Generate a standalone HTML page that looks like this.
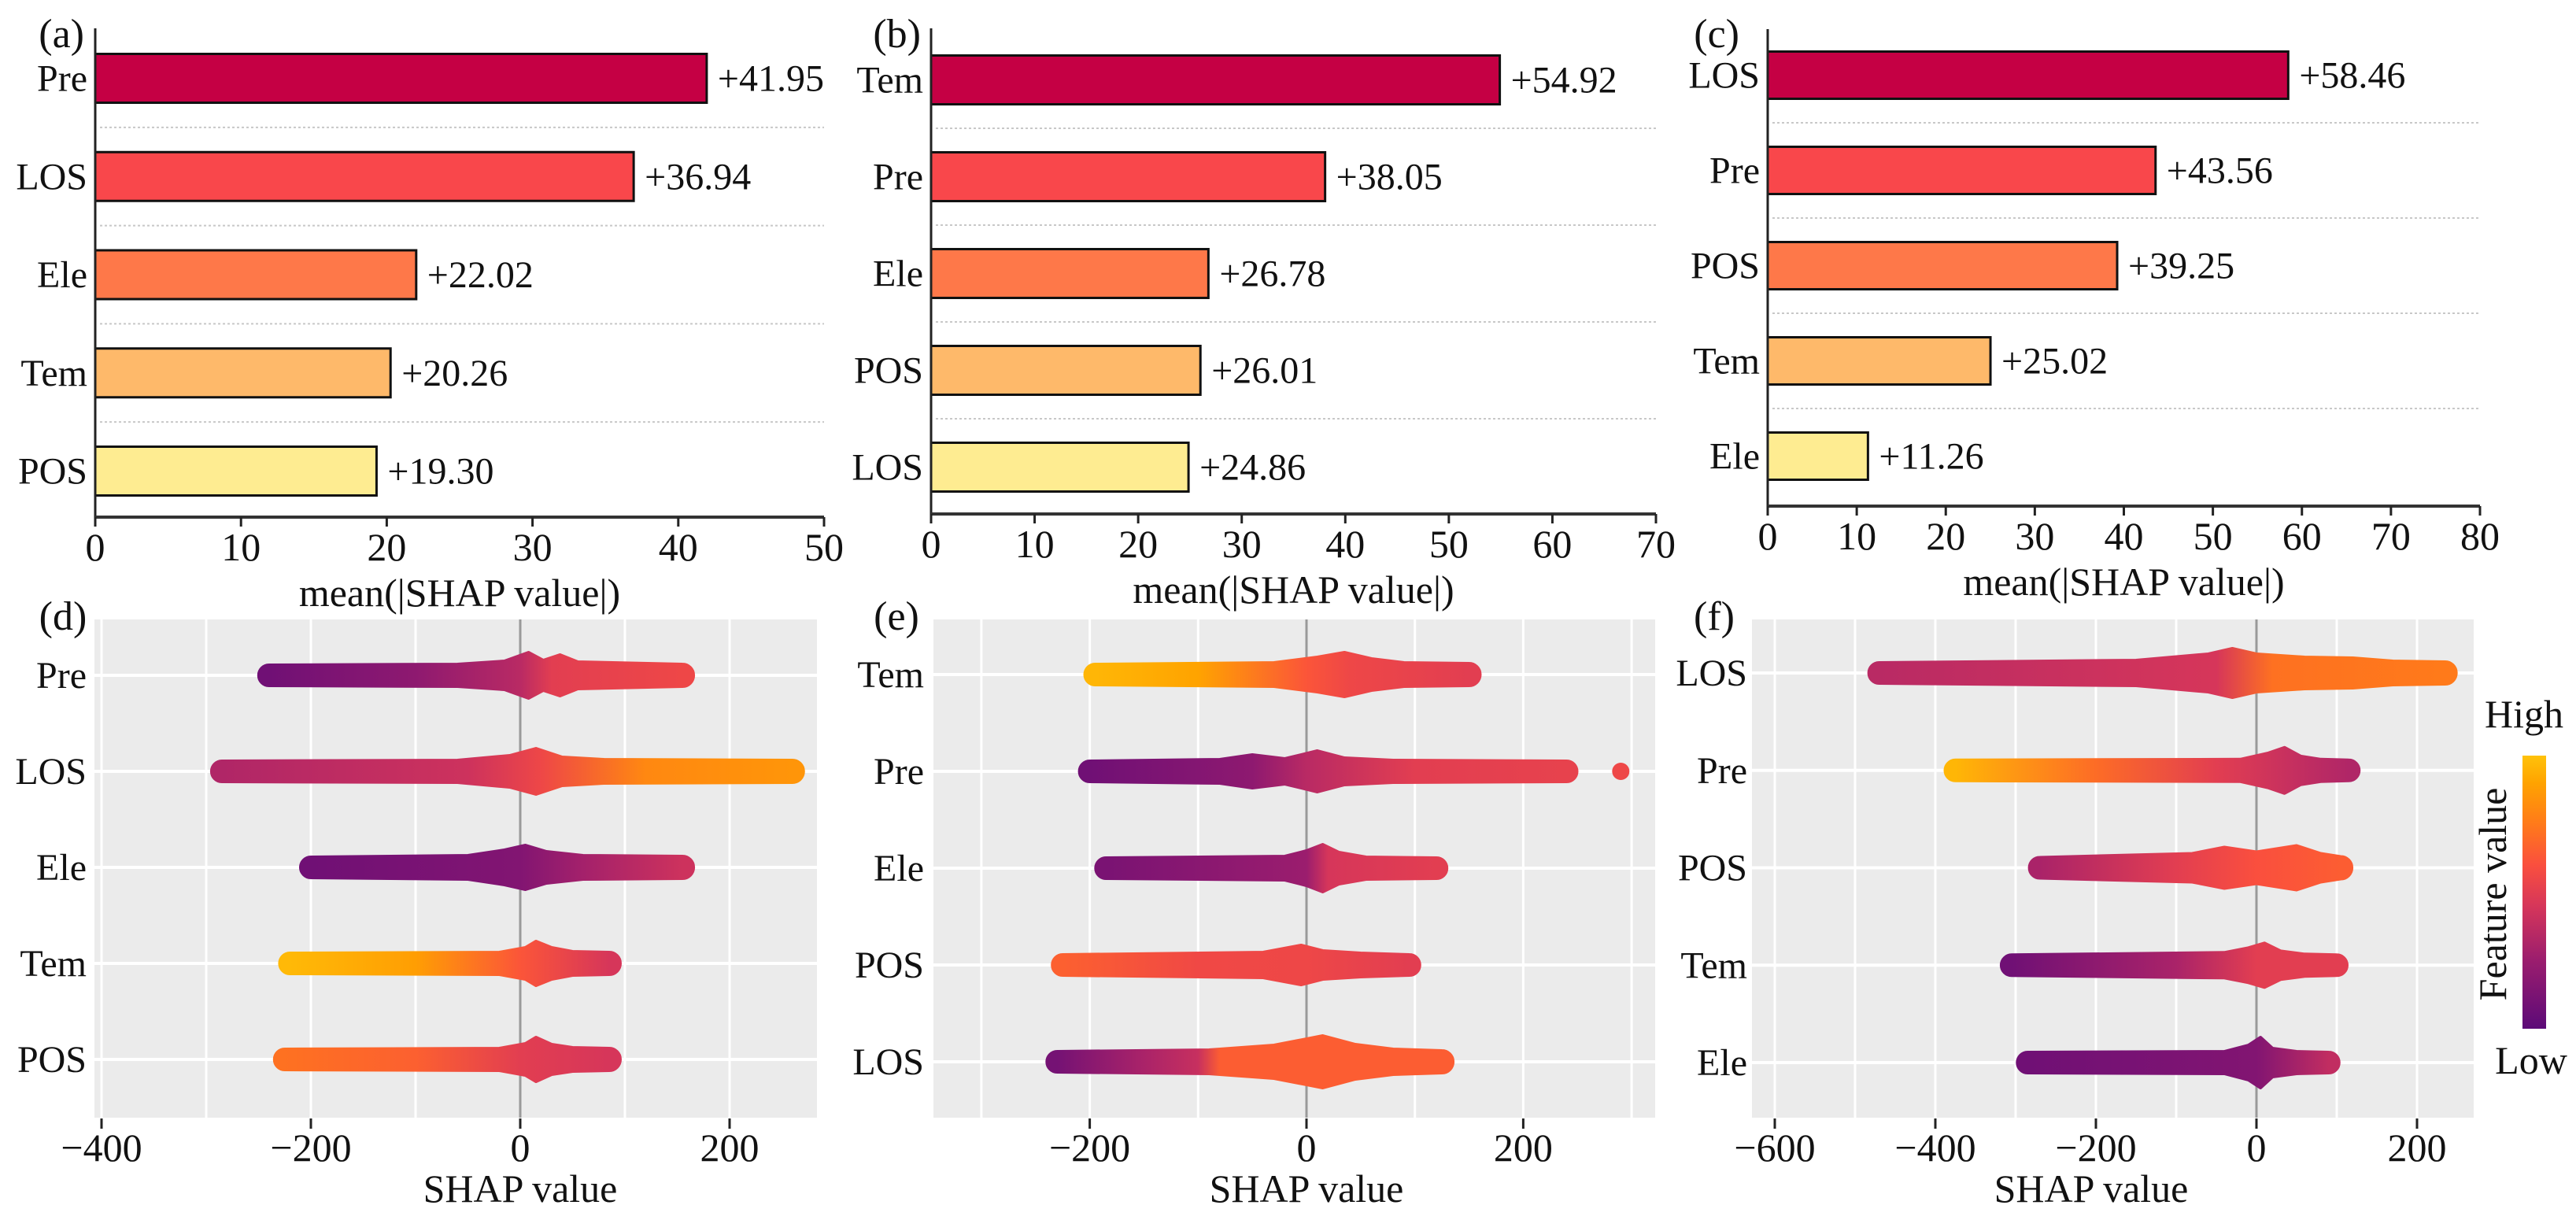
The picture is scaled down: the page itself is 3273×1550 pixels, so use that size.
<!DOCTYPE html>
<html><head><meta charset="utf-8"><style>
html,body{margin:0;padding:0;background:#fff;}
svg{display:block;}
svg text{font-family:"Liberation Serif","Times New Roman",serif;}
</style></head><body>
<svg id="fig" width="3273" height="1550" viewBox="0 0 3273 1550" xmlns="http://www.w3.org/2000/svg" font-family="Liberation Serif, serif">
<defs id="defs"></defs>
</svg>
<script>
// ---------- data: bar panels ----------
const aCats = ["Pre","LOS","Ele","Tem","POS"];
const aVals = [41.95,36.94,22.02,20.26,19.30];
const aTicks = [0,10,20,30,40,50];
const bCats = ["Tem","Pre","Ele","POS","LOS"];
const bVals = [54.92,38.05,26.78,26.01,24.86];
const bTicks = [0,10,20,30,40,50,60,70];
const cCats = ["LOS","Pre","POS","Tem","Ele"];
const cVals = [58.46,43.56,39.25,25.02,11.26];
const cTicks = [0,10,20,30,40,50,60,70,80];
const barColors = ["#c50044","#f9474b","#fe7849","#feb96a","#feec91"];

// ---------- data: beeswarm panels (SHAP value, half-thickness) and (SHAP value, feature colour 0..1) ----------
const dCats = ["Pre","LOS","Ele","Tem","POS"];
const dTicks = [-400,-200,0,200];
const dPreShape = [[-240,13],[-60,14],[-15,18],[8,29],[22,19],[38,26],[55,17],[155,14]];
const dPreColor = [[-240,0.08],[-100,0.2],[0,0.35],[30,0.5],[155,0.55]];
const dLosShape = [[-285,13],[-60,14],[-10,20],[15,29],[40,18],[80,15],[260,14]];
const dLosColor = [[-285,0.32],[-50,0.42],[20,0.55],[120,0.8],[260,0.85]];
const dEleShape = [[-200,13],[-50,15],[-15,22],[5,28],[25,20],[60,15],[155,14]];
const dEleColor = [[-200,0.08],[0,0.15],[60,0.28],[155,0.42]];
const dTemShape = [[-220,13],[-20,14],[5,20],[15,28],[30,20],[50,15],[85,14]];
const dTemColor = [[-220,0.97],[-100,0.88],[0,0.62],[85,0.45]];
const dPosShape = [[-225,13],[-20,14],[5,20],[15,28],[30,19],[50,15],[85,14]];
const dPosColor = [[-225,0.72],[-100,0.66],[0,0.5],[85,0.45]];

const eCats = ["Tem","Pre","Ele","POS","LOS"];
const eTicks = [-200,0,200];
const eTemShape = [[-195,13],[-30,15],[10,22],[35,28],[60,20],[90,15],[150,14]];
const eTemColor = [[-195,0.96],[-100,0.9],[0,0.62],[40,0.55],[150,0.5]];
const ePreShape = [[-200,13],[-80,15],[-50,21],[-20,16],[10,26],[35,17],[80,14],[240,13]];
const ePreColor = [[-200,0.08],[-50,0.2],[0,0.35],[100,0.5],[240,0.52]];
const eEleShape = [[-185,13],[-20,15],[0,22],[15,30],[30,20],[55,14],[120,13]];
const eEleColor = [[-185,0.12],[0,0.25],[20,0.45],[120,0.5]];
const ePosShape = [[-225,13],[-40,16],[-5,25],[15,18],[50,15],[95,13]];
const ePosColor = [[-225,0.66],[-100,0.56],[0,0.55],[95,0.5]];
const eLosShape = [[-230,13],[-90,15],[-30,21],[15,33],[45,22],[80,16],[125,14]];
const eLosColor = [[-230,0.1],[-150,0.3],[-100,0.4],[-80,0.65],[125,0.65]];
const eOutlier = [[290,0.55]];

const fCats = ["LOS","Pre","POS","Tem","Ele"];
const fTicks = [-600,-400,-200,0,200];
const fLosShape = [[-470,13],[-150,16],[-60,24],[-30,31],[0,24],[60,20],[120,19],[170,15],[235,14]];
const fLosColor = [[-470,0.35],[-50,0.45],[20,0.72],[235,0.75]];
const fPreShape = [[-375,13],[-20,14],[15,22],[35,29],[55,18],[80,14],[115,13]];
const fPreColor = [[-375,0.96],[-200,0.7],[-50,0.5],[40,0.4],[115,0.32]];
const fPosShape = [[-270,13],[-80,18],[-40,26],[0,20],[50,28],[80,18],[105,14]];
const fPosColor = [[-270,0.3],[-100,0.5],[0,0.6],[105,0.65]];
const fTemShape = [[-305,13],[-40,16],[-10,22],[10,28],[30,18],[60,14],[100,13]];
const fTemColor = [[-305,0.08],[-100,0.3],[0,0.5],[100,0.5]];
const fEleShape = [[-285,13],[-40,14],[-10,22],[5,32],[20,18],[50,14],[90,13]];
const fEleColor = [[-285,0.08],[0,0.15],[90,0.38]];

// ---------- helpers ----------
const NS = "http://www.w3.org/2000/svg";
const svg = document.getElementById("fig");
const defs = document.getElementById("defs");
const FONT = '"Liberation Serif", "Times New Roman", serif';
function mk(tag, attrs, parent){
  const e = document.createElementNS(NS, tag);
  for (const k in attrs) e.setAttribute(k, attrs[k]);
  (parent||svg).appendChild(e);
  return e;
}
function txt(s, attrs, parent){ const t = mk("text", attrs, parent); t.setAttribute("font-family", FONT); t.style.fontFamily = FONT; t.textContent = s; return t; }
const cmapStops = [[0,[92,10,120]],[0.25,[155,29,110]],[0.45,[214,54,90]],[0.6,[250,79,62]],[0.75,[255,122,26]],[0.9,[255,163,0]],[1,[255,194,10]]];
function cmap(t){
  t = Math.max(0, Math.min(1, t));
  for (let i=1;i<cmapStops.length;i++){
    if (t <= cmapStops[i][0]){
      const [t0,c0] = cmapStops[i-1], [t1,c1] = cmapStops[i];
      const f = (t-t0)/(t1-t0);
      return "rgb(" + c0.map((c,j)=>Math.round(c+(c1[j]-c)*f)).join(",") + ")";
    }
  }
  return "rgb(255,194,10)";
}
function fmtTick(v){ return v < 0 ? "\u2212" + Math.abs(v) : String(v); }

// ---------- bar panel ----------
function barPanel(p){
  const g = mk("g", {});
  
  
  const maxT = p.ticks[p.ticks.length-1];
  const xs = v => p.x0 + (v/maxT)*(p.x1-p.x0);
  const ys = i => p.cy0 + i*p.pitch;
  for (let i=0;i<p.cats.length-1;i++){
    const sep = mk("line", {x1:p.x0+6, x2:p.x1, y1:(ys(i)+ys(i+1))/2, y2:(ys(i)+ys(i+1))/2, stroke:"#c8c8c8", "stroke-width":2, "stroke-dasharray":"3,3"}, g);
    
    
  }
  p.cats.forEach((c,i)=>{
    const r = mk("rect", {x:p.x0, y:ys(i)-p.barH/2, width:xs(p.vals[i])-p.x0, height:p.barH, fill:barColors[i], stroke:"#111", "stroke-width":3}, g);
    
    
    const vl = txt("+" + p.vals[i].toFixed(2), {x:xs(p.vals[i])+14, y:ys(i)+16, "font-size":48, fill:"#111"}, g);
    
    
    const yl = txt(c, {x:p.x0-10, y:ys(i)+16, "font-size":48, "text-anchor":"end", fill:"#111"}, g);
    
    
  });
  const sp = mk("line", {x1:p.x0, x2:p.x0, y1:p.spineTop, y2:p.axisY+12, stroke:"#222", "stroke-width":3}, g);
  
  
  const ax = mk("line", {x1:p.x0, x2:p.x1, y1:p.axisY, y2:p.axisY, stroke:"#333", "stroke-width":4}, g);
  
  
  p.ticks.forEach(t=>{
    const tk = mk("line", {x1:xs(t), x2:xs(t), y1:p.axisY, y2:p.axisY+12, stroke:"#222", "stroke-width":3}, g);
    
    
    const tl = txt(fmtTick(t), {x:xs(t), y:p.axisY+55, "font-size":50, "text-anchor":"middle", fill:"#111"}, g);
    
    
  });
  const xl = txt("mean(|SHAP value|)", {x:(p.x0+p.x1)/2, y:p.axisY+113, "font-size":50, "text-anchor":"middle", fill:"#111"}, g);
  
  
  const pl = txt(p.label, {x:p.labelX, y:60, "font-size":52, "text-anchor":"end", fill:"#111"}, g);
  
  
}

barPanel({name:"panel-a-importance", label:"(a)", labelX:107, cats:aCats, vals:aVals, ticks:aTicks, x0:121, x1:1047, cy0:99.5, pitch:124.75, barH:62, axisY:657, spineTop:36});
barPanel({name:"panel-b-importance", label:"(b)", labelX:1170, cats:bCats, vals:bVals, ticks:bTicks, x0:1183, x1:2104, cy0:101.5, pitch:123, barH:62, axisY:653, spineTop:36});
barPanel({name:"panel-c-importance", label:"(c)", labelX:2210, cats:cCats, vals:cVals, ticks:cTicks, x0:2246, x1:3151, cy0:95.5, pitch:121, barH:60, axisY:643, spineTop:37});

// ---------- beeswarm panel ----------
let gradId = 0;
function swarmPanel(p){
  const g = mk("g", {});
  
  
  const xs = v => p.zeroX + v*p.ppu;
  const ys = i => p.cy0 + i*p.pitch;
  const bg = mk("rect", {x:p.left, y:787, width:p.right-p.left, height:1420-787, fill:"#ebebeb"}, g);
  
  
  const vmin = (p.left-p.zeroX)/p.ppu, vmax = (p.right-p.zeroX)/p.ppu;
  for (let v=Math.ceil(vmin/100)*100; v<=vmax; v+=100){
    if (v===0) continue;
    const gl = mk("line", {x1:xs(v), x2:xs(v), y1:787, y2:1420, stroke:"#fff", "stroke-width":3}, g);
    
    
  }
  p.cats.forEach((c,i)=>{
    const hl = mk("line", {x1:p.left, x2:p.right, y1:ys(i), y2:ys(i), stroke:"#fff", "stroke-width":4}, g);
    
    
  });
  const zl = mk("line", {x1:xs(0), x2:xs(0), y1:787, y2:1420, stroke:"#999", "stroke-width":3}, g);
  
  
  p.cats.forEach((c,i)=>{
    const shape = p.shapes[i], col = p.colors[i], cy = ys(i);
    const id = "grad" + (gradId++);
    const lg = mk("linearGradient", {id:id, gradientUnits:"userSpaceOnUse", x1:xs(shape[0][0]), x2:xs(shape[shape.length-1][0]), y1:0, y2:0}, defs);
    const span = shape[shape.length-1][0]-shape[0][0];
    col.forEach(([v,t])=>{ mk("stop", {offset:((v-shape[0][0])/span).toFixed(4), "stop-color":cmap(t)}, lg); });
    const top = shape.map(([v,h])=>xs(v).toFixed(1)+","+(cy-h).toFixed(1));
    const bot = shape.slice().reverse().map(([v,h])=>xs(v).toFixed(1)+","+(cy+h).toFixed(1));
    const first = shape[0], last = shape[shape.length-1];
    const d = "M"+top.join(" L")+" A"+last[1]+","+last[1]+" 0 0 1 "+bot[0]+" L"+bot.join(" L")+" A"+first[1]+","+first[1]+" 0 0 1 "+top[0]+" Z";
    const sw = mk("path", {d:d, fill:"url(#"+id+")", stroke:"url(#"+id+")", "stroke-width":4, "stroke-linejoin":"round"}, g);
    
    
    const yl = txt(c, {x:p.labelRight, y:cy+16, "font-size":48, "text-anchor":"end", fill:"#111"}, g);
    
    
  });
  (p.outliers||[]).forEach(([v,t])=>{
    const o = mk("circle", {cx:xs(v), cy:ys(p.outlierRow), r:11, fill:cmap(t)}, g);
    
    
  });
  p.ticks.forEach(t=>{
    const tk = mk("line", {x1:xs(t), x2:xs(t), y1:1421, y2:1434, stroke:"#222", "stroke-width":3}, g);
    
    
    const tl = txt(fmtTick(t), {x:xs(t), y:1475, "font-size":50, "text-anchor":"middle", fill:"#111"}, g);
    
    
  });
  const xl = txt("SHAP value", {x:xs(0)+p.titleShift, y:1527, "font-size":50, "text-anchor":"middle", fill:"#111"}, g);
  
  
  const pl = txt(p.label, {x:p.labelX, y:800, "font-size":52, "text-anchor":"middle", fill:"#111"}, g);
  
  
}

swarmPanel({name:"panel-d-summary", label:"(d)", labelX:80, cats:dCats, ticks:dTicks, left:120, right:1038, zeroX:661, ppu:1.33, cy0:858, pitch:122, labelRight:110, titleShift:0,
  shapes:[dPreShape,dLosShape,dEleShape,dTemShape,dPosShape], colors:[dPreColor,dLosColor,dEleColor,dTemColor,dPosColor]});
swarmPanel({name:"panel-e-summary", label:"(e)", labelX:1139, cats:eCats, ticks:eTicks, left:1186, right:2103, zeroX:1660, ppu:1.377, cy0:857, pitch:123, labelRight:1174, titleShift:0,
  shapes:[eTemShape,ePreShape,eEleShape,ePosShape,eLosShape], colors:[eTemColor,ePreColor,eEleColor,ePosColor,eLosColor], outliers:eOutlier, outlierRow:1});
swarmPanel({name:"panel-f-summary", label:"(f)", labelX:2178, cats:fCats, ticks:fTicks, left:2226, right:3143, zeroX:2867, ppu:1.02, cy0:855, pitch:123.75, labelRight:2220, titleShift:-210,
  shapes:[fLosShape,fPreShape,fPosShape,fTemShape,fEleShape], colors:[fLosColor,fPreColor,fPosColor,fTemColor,fEleColor]});

// ---------- colorbar ----------
const cbg = mk("linearGradient", {id:"cbar", x1:0, x2:0, y1:1, y2:0}, defs);
cmapStops.forEach(([t])=>{ mk("stop", {offset:t, "stop-color":cmap(t)}, cbg); });
const cb = mk("rect", {x:3205, y:960, width:30, height:347, fill:"url(#cbar)"});


const hi = txt("High", {x:3207, y:924, "font-size":50, "text-anchor":"middle", fill:"#111"});


const lo = txt("Low", {x:3216, y:1364, "font-size":50, "text-anchor":"middle", fill:"#111"});


const fv = txt("Feature value", {x:0, y:0, "font-size":50, "text-anchor":"middle", fill:"#111", transform:"translate(3184,1136) rotate(-90)"});


</script>
</body></html>
